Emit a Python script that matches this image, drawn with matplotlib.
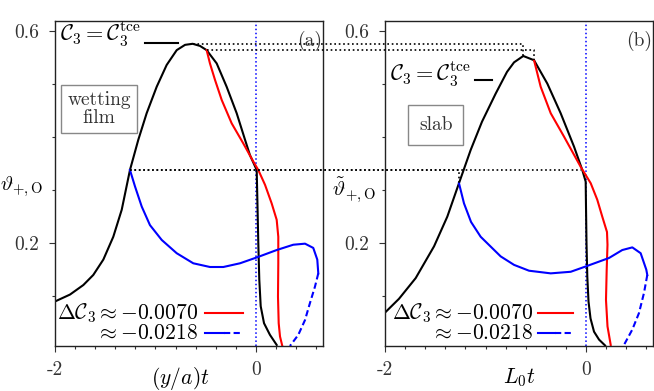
import numpy as np
import matplotlib
matplotlib.use("Agg")
import matplotlib.pyplot as plt
from matplotlib.lines import Line2D

plt.rcParams['font.family'] = 'cmr10'
plt.rcParams['mathtext.fontset'] = 'cm'
plt.rcParams['axes.unicode_minus'] = False

# panel (a): wetting film
a_black_x = [-2.0, -1.851, -1.718, -1.619, -1.519, -1.420, -1.336, -1.254, -1.171, -1.088,
             -0.988, -0.889, -0.789, -0.706, -0.630, -0.557, -0.491, -0.391, -0.292, -0.192,
             -0.109, -0.060, 0.007,
             0.013, 0.023, 0.033, 0.047, 0.080, 0.139, 0.206]
a_black_y = [0.090, 0.103, 0.121, 0.140, 0.169, 0.212, 0.263, 0.338, 0.395, 0.445,
             0.495, 0.536, 0.564, 0.574, 0.576, 0.572, 0.564, 0.539, 0.495, 0.445,
             0.395, 0.366, 0.338,
             0.288, 0.200, 0.131, 0.081, 0.049, 0.027, 0.008]
a_red_x = [-0.491, -0.458, -0.408, -0.341, -0.242, -0.126, -0.027, 0.023, 0.090, 0.156,
           0.206, 0.222, 0.222, 0.219, 0.226, 0.239, 0.262]
a_red_y = [0.564, 0.539, 0.508, 0.470, 0.426, 0.388, 0.354, 0.338, 0.310, 0.275,
           0.244, 0.212, 0.162, 0.099, 0.049, 0.024, 0.006]
a_blue_x = [-1.254, -1.204, -1.137, -1.055, -0.938, -0.789, -0.624, -0.458, -0.325, -0.159,
            0.007, 0.206, 0.371, 0.488, 0.570, 0.610, 0.620]
a_blue_y = [0.338, 0.307, 0.269, 0.234, 0.206, 0.181, 0.162, 0.155, 0.155, 0.162,
            0.173, 0.187, 0.197, 0.199, 0.191, 0.169, 0.143]
a_blue_dash_x = [0.620, 0.587, 0.537, 0.488, 0.421, 0.338]
a_blue_dash_y = [0.143, 0.118, 0.087, 0.055, 0.027, 0.006]

# panel (b): slab
b_black_x = [-2.0, -1.861, -1.695, -1.512, -1.380, -1.264, -1.147, -1.035, -0.899, -0.786,
             -0.716, -0.624, -0.517, -0.385, -0.252, -0.119, -0.037, -0.003,
             0.000, 0.005, 0.013, 0.025, 0.045, 0.080, 0.130, 0.190]
b_black_y = [0.069, 0.095, 0.134, 0.194, 0.250, 0.313, 0.376, 0.429, 0.482, 0.523,
             0.541, 0.553, 0.545, 0.501, 0.445, 0.382, 0.338, 0.316,
             0.270, 0.200, 0.137, 0.090, 0.058, 0.033, 0.018, 0.007]
b_red_x = [-0.517, -0.451, -0.351, -0.219, -0.053, 0.047, 0.112, 0.162, 0.209, 0.214,
           0.206, 0.199, 0.214, 0.246]
b_red_y = [0.545, 0.495, 0.445, 0.401, 0.344, 0.313, 0.282, 0.250, 0.221, 0.197,
           0.150, 0.093, 0.043, 0.008]
b_blue_x = [-1.264, -1.214, -1.144, -1.048, -0.849, -0.716, -0.567, -0.351, -0.152, -0.003,
            0.229, 0.361, 0.461, 0.544, 0.600, 0.610]
b_blue_y = [0.313, 0.275, 0.240, 0.212, 0.175, 0.159, 0.148, 0.143, 0.146, 0.156,
            0.172, 0.187, 0.192, 0.181, 0.150, 0.140]
b_blue_dash_x = [0.610, 0.577, 0.527, 0.461, 0.378]
b_blue_dash_y = [0.140, 0.106, 0.068, 0.037, 0.008]

x_ticks = [-2, 0]
x_ticklabels = ['-2', '0']
x_minor = [-1.8, -1.6, -1.4, -1.2, -1.0, -0.8, -0.6, -0.4, -0.2, 0.2, 0.4, 0.6]
y_ticks = [0.2, 0.6]
y_ticklabels = ['0.2', '0.6']
y_minor = [0.1, 0.3, 0.4, 0.5]

fig = plt.figure(figsize=(6.54, 3.91), dpi=100)
ax_a = fig.add_axes([0.0841, 0.1151, 0.4098, 0.8312])
ax_b = fig.add_axes([0.5887, 0.1151, 0.4098, 0.8312])

dash = (0, (3, 1.6))
lw = 1.5
for ax, bx, by, rx, ry, blx, bly, bdx, bdy in [
        (ax_a, a_black_x, a_black_y, a_red_x, a_red_y, a_blue_x, a_blue_y, a_blue_dash_x, a_blue_dash_y),
        (ax_b, b_black_x, b_black_y, b_red_x, b_red_y, b_blue_x, b_blue_y, b_blue_dash_x, b_blue_dash_y)]:
    ax.axvline(0, color='blue', linestyle=':', lw=1.1)
    ax.plot(bx, by, color='black', lw=lw)
    ax.plot(rx, ry, color='red', lw=lw)
    ax.plot(blx, bly, color='blue', lw=lw)
    ax.plot(bdx, bdy, color='blue', lw=lw, linestyle=dash)
    ax.set_xlim(-2, 0.667)
    ax.set_ylim(0.006, 0.619)
    ax.set_xticks(x_ticks)
    ax.set_xticklabels(x_ticklabels)
    ax.set_xticks(x_minor, minor=True)
    ax.set_yticks(y_ticks)
    ax.set_yticklabels(y_ticklabels)
    ax.set_yticks(y_minor, minor=True)
    ax.tick_params(which='major', direction='out', length=4.5, width=0.8, labelsize=14,
                   colors='#333333')
    ax.tick_params(which='minor', direction='out', length=2.5, width=0.8, colors='#333333')
    ax.tick_params(axis='x', pad=6)
    ax.tick_params(axis='y', pad=7)
    for s in ax.spines.values():
        s.set_linewidth(1.0)
        s.set_color('#222222')

# labels
ax_a.set_xlabel(r'$(y/a)t$', fontsize=15.5)
ax_a.xaxis.set_label_coords(0.468, -0.058)
ax_b.set_xlabel(r'$L_0t$', fontsize=15.5)
ax_b.xaxis.set_label_coords(0.5, -0.062)
ax_a.set_ylabel(r'$\vartheta_{+,\mathrm{O}}$', fontsize=15, rotation=0, va='center')
ax_a.yaxis.set_label_coords(-0.125, 0.49)
ax_b.set_ylabel(r'$\tilde{\vartheta}_{+,\mathrm{O}}$', fontsize=15, rotation=0, va='center')
ax_b.yaxis.set_label_coords(-0.115, 0.48)

ax_a.text(0.95, 0.94, '(a)', transform=ax_a.transAxes, fontsize=14, ha='center', va='center',
          color='#333333')
ax_b.text(0.95, 0.94, '(b)', transform=ax_b.transAxes, fontsize=14, ha='center', va='center',
          color='#333333')

box = dict(boxstyle='square,pad=0.3', fc='white', ec='#888888', lw=1.0)
ax_a.text(0.164, 0.729, 'wetting\nfilm', transform=ax_a.transAxes, fontsize=14, ha='center',
          va='center', linespacing=1.0, bbox=box, color='#333333')
ax_b.text(0.190, 0.68, 'slab', transform=ax_b.transAxes, fontsize=14, ha='center',
          va='center', bbox=dict(boxstyle='square,pad=0.55', fc='white', ec='#888888', lw=1.0),
          color='#333333')

# C3 = C3^tce key
c3 = r'$\mathcal{C}_3=\mathcal{C}_3^{\rm tce}$'
ax_a.text(0.019, 0.957, c3, transform=ax_a.transAxes, fontsize=16, ha='left', va='center')
ax_a.plot([0.336, 0.459], [0.932, 0.932], transform=ax_a.transAxes, color='black', lw=lw,
          clip_on=False)
ax_b.text(0.019, 0.834, c3, transform=ax_b.transAxes, fontsize=16, ha='left', va='center')
ax_b.plot([0.336, 0.399], [0.818, 0.818], transform=ax_b.transAxes, color='black', lw=lw)

# Delta C3 key
for ax, xr, x0, x1 in [(ax_a, 0.534, 0.56, 0.70), (ax_b, 0.552, 0.571, 0.70)]:
    ax.text(xr, 0.1015, r'$\Delta\mathcal{C}_3\approx{-}0.0070$', transform=ax.transAxes,
            fontsize=15.5, ha='right', va='center')
    ax.text(xr, 0.04, r'$\approx{-}0.0218$', transform=ax.transAxes,
            fontsize=15.5, ha='right', va='center')
    ax.plot([x0, x1], [0.1015, 0.1015], transform=ax.transAxes, color='red', lw=lw)
    xm = (x0 + x1) / 2
    ax.plot([x0, xm], [0.04, 0.04], transform=ax.transAxes, color='blue', lw=lw)
    ax.plot([xm, x1], [0.04, 0.04], transform=ax.transAxes, color='blue', lw=lw, linestyle=dash)


# dotted connectors between panels (figure coordinates)
def to_fig(ax, x, y):
    return fig.transFigure.inverted().transform(ax.transData.transform((x, y)))


def connector(p_a, p_b):
    xa, ya = to_fig(ax_a, *p_a)
    xb, yb = to_fig(ax_b, *p_b)
    fig.add_artist(Line2D([xa, xb, xb], [ya, ya, yb], transform=fig.transFigure,
                          color='black', lw=1.2, linestyle=':'))


ia = int(np.argmax(a_black_y))
ib = int(np.argmax(b_black_y))
connector((a_black_x[ia], a_black_y[ia]), (b_black_x[ib], b_black_y[ib]))
connector((a_red_x[0], a_red_y[0]), (b_red_x[0], b_red_y[0]))
connector((a_blue_x[0], a_blue_y[0]), (b_blue_x[0], b_blue_y[0]))
xa, ya = to_fig(ax_a, a_blue_x[0], a_blue_y[0])
xb, yb = to_fig(ax_b, b_red_x[4], b_red_y[4])
fig.add_artist(Line2D([xa, xb], [ya, ya], transform=fig.transFigure, color='black', lw=1.2,
                      linestyle=':'))

fig.savefig('out.png', dpi=100)
